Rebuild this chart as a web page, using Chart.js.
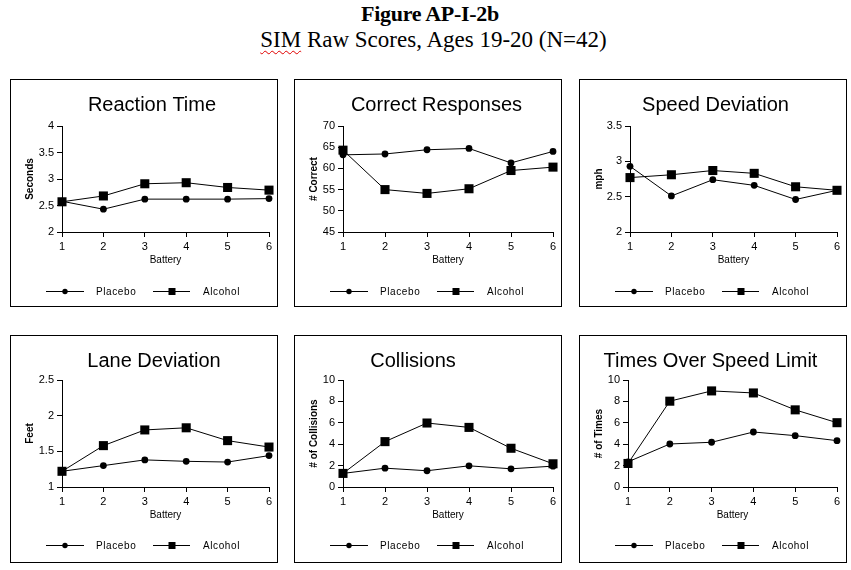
<!DOCTYPE html>
<html>
<head>
<meta charset="utf-8">
<script src="https://cdn.jsdelivr.net/npm/chart.js@4"></script>
<style>
  body { margin: 0; background: #fff; width: 851px; height: 570px; position: relative; overflow: hidden; }
  .head { position: absolute; left: 0; text-align: center; font-family: "Liberation Serif", "Times New Roman", serif; color: #000; white-space: nowrap; }
  #fig { top: 3px; width: 860px; font-size: 22px; line-height: 22px; font-weight: bold; letter-spacing: -0.3px; }
  #sub { top: 28px; width: 867px; font-size: 23px; line-height: 23px; }
  .typo { text-decoration: underline wavy #e00000; text-decoration-thickness: 1px; text-underline-offset: 3px; }
  .panel { position: absolute; width: 268px; height: 228px; box-sizing: border-box; border: 1px solid #000; background: #fff; }
  .panel canvas { position: absolute; left: 0; top: 0; }
</style>
</head>
<body>
<div class="head" id="fig">Figure AP-I-2b</div>
<div class="head" id="sub"><span class="typo">SIM</span> Raw Scores, Ages 19-20 (N=42)</div>

<div class="panel" style="left:10px; top:79px;"><canvas id="reaction" width="266" height="226"></canvas></div>
<div class="panel" style="left:294px; top:79px;"><canvas id="correct" width="266" height="226"></canvas></div>
<div class="panel" style="left:579px; top:79px;"><canvas id="speed" width="266" height="226"></canvas></div>
<div class="panel" style="left:10px; top:335px;"><canvas id="lane" width="266" height="226"></canvas></div>
<div class="panel" style="left:294px; top:335px;"><canvas id="collisions" width="266" height="226"></canvas></div>
<div class="panel" style="left:579px; top:335px;"><canvas id="overLimit" width="266" height="226"></canvas></div>

<script>
// data
const batteries = ["1", "2", "3", "4", "5", "6"];

const reactionPlacebo = [2.58, 2.43, 2.62, 2.62, 2.62, 2.63];
const reactionAlcohol = [2.57, 2.68, 2.91, 2.93, 2.84, 2.79];
const reactionTicks = [2, 2.5, 3, 3.5, 4];

const correctPlacebo = [63.2, 63.4, 64.4, 64.7, 61.3, 64.0];
const correctAlcohol = [64.3, 55.0, 54.1, 55.2, 59.5, 60.3];
const correctTicks = [45, 50, 55, 60, 65, 70];

const speedPlacebo = [2.93, 2.51, 2.74, 2.66, 2.46, 2.59];
const speedAlcohol = [2.77, 2.81, 2.87, 2.83, 2.64, 2.59];
const speedTicks = [2, 2.5, 3, 3.5];

const lanePlacebo = [1.22, 1.30, 1.38, 1.36, 1.35, 1.44];
const laneAlcohol = [1.22, 1.58, 1.80, 1.83, 1.65, 1.56];
const laneTicks = [1, 1.5, 2, 2.5];

const collisionsPlacebo = [1.27, 1.76, 1.52, 1.98, 1.70, 1.95];
const collisionsAlcohol = [1.27, 4.24, 5.98, 5.57, 3.62, 2.17];
const collisionsTicks = [0, 1, 2, 3, 4, 5, 6, 7, 8, 9, 10];

const overPlacebo = [2.35, 4.02, 4.18, 5.14, 4.80, 4.33];
const overAlcohol = [2.20, 8.02, 8.98, 8.79, 7.21, 6.01];
const overTicks = [0, 2, 4, 6, 8, 10];

const seriesNames = ["Placebo", "Alcohol"];

const FONT = 'Arial, "Liberation Sans", sans-serif';

// title + legend drawn by hand (line with marker, like the original)
const panelDecor = {
  id: "panelDecor",
  afterDraw(chart, args, opts) {
    const ctx = chart.ctx;
    ctx.save();
    ctx.fillStyle = "#000";
    ctx.strokeStyle = "#000";
    ctx.lineWidth = 1;

    ctx.font = "20px " + FONT;
    ctx.textAlign = "center";
    ctx.textBaseline = "alphabetic";
    ctx.fillText(opts.title, opts.titleX, opts.titleY);

    let y = opts.legendY;
    ctx.font = "10px " + FONT;
    ctx.textAlign = "left";
    ctx.textBaseline = "middle";
    if ("letterSpacing" in ctx) ctx.letterSpacing = "0.6px";

    ctx.beginPath();
    ctx.moveTo(35, y + 0.5);
    ctx.lineTo(73, y + 0.5);
    ctx.stroke();
    ctx.beginPath();
    ctx.arc(54, y + 0.5, 2.7, 0, Math.PI * 2);
    ctx.fill();
    ctx.fillText(chart.data.datasets[0].label, 85, y + 1);

    ctx.beginPath();
    ctx.moveTo(142, y + 0.5);
    ctx.lineTo(179, y + 0.5);
    ctx.stroke();
    ctx.fillRect(157.5, y - 3, 7, 7);
    ctx.fillText(chart.data.datasets[1].label, 192, y + 1);

    ctx.restore();
  }
};

function makeChart(id, placebo, alcohol, ticks, yTitle, layout) {
  let top = layout.row === 0 ? 46 : 44;
  let bottom = layout.row === 0 ? 34 : 35;
  return new Chart(document.getElementById(id), {
    type: "line",
    data: {
      labels: batteries,
      datasets: [
        {
          label: seriesNames[0],
          data: placebo,
          borderColor: "#000",
          borderWidth: 1,
          pointStyle: "circle",
          pointRadius: 3.4,
          pointBackgroundColor: "#000",
          pointBorderWidth: 0,
          tension: 0,
          clip: false
        },
        {
          label: seriesNames[1],
          data: alcohol,
          borderColor: "#000",
          borderWidth: 1,
          pointStyle: "rect",
          pointRadius: 6.4,
          pointBackgroundColor: "#000",
          pointBorderWidth: 0,
          tension: 0,
          clip: false
        }
      ]
    },
    options: {
      responsive: false,
      animation: false,
      devicePixelRatio: 1,
      layout: { padding: { top: top, bottom: bottom, left: 0, right: layout.right } },
      plugins: {
        legend: { display: false },
        tooltip: { enabled: false },
        panelDecor: {
          title: layout.title,
          titleX: layout.titleX,
          titleY: 31,
          legendY: layout.row === 0 ? 211 : 209
        }
      },
      scales: {
        x: {
          type: "category",
          offset: false,
          afterFit: (s) => { s.height = 40; },
          grid: { display: true, drawOnChartArea: false, drawTicks: true, tickLength: 5, color: "#000" },
          border: { display: true, color: "#000", width: 1 },
          ticks: { color: "#000", padding: 3, font: { family: FONT, size: 11 }, maxRotation: 0, autoSkip: false },
          title: { display: true, text: "Battery", color: "#000", padding: { top: 0, bottom: 6 }, font: { family: FONT, size: 10 } }
        },
        y: {
          min: ticks[0],
          max: ticks[ticks.length - 1],
          afterFit: (s) => { s.width = layout.yWidth; },
          afterBuildTicks: (s) => { s.ticks = ticks.map(v => ({ value: v })); },
          grid: { display: true, drawOnChartArea: false, drawTicks: true, tickLength: 5, color: "#000" },
          border: { display: true, color: "#000", width: 1 },
          ticks: { color: "#000", padding: 3, font: { family: FONT, size: 11 }, callback: (v) => String(v) },
          title: { display: true, text: yTitle, color: "#000", padding: { top: 13, bottom: 0 }, font: { family: FONT, size: 10, weight: "bold" } }
        }
      }
    },
    plugins: [panelDecor]
  });
}

makeChart("reaction", reactionPlacebo, reactionAlcohol, reactionTicks, "Seconds",
  { row: 0, yWidth: 51, right: 8, title: "Reaction Time", titleX: 141 });
makeChart("correct", correctPlacebo, correctAlcohol, correctTicks, "# Correct",
  { row: 0, yWidth: 48, right: 8, title: "Correct Responses", titleX: 141.5 });
makeChart("speed", speedPlacebo, speedAlcohol, speedTicks, "mph",
  { row: 0, yWidth: 50, right: 9, title: "Speed Deviation", titleX: 135.5 });
makeChart("lane", lanePlacebo, laneAlcohol, laneTicks, "Feet",
  { row: 1, yWidth: 51, right: 8, title: "Lane Deviation", titleX: 143 });
makeChart("collisions", collisionsPlacebo, collisionsAlcohol, collisionsTicks, "# of Collisions",
  { row: 1, yWidth: 48, right: 8, title: "Collisions", titleX: 118 });
makeChart("overLimit", overPlacebo, overAlcohol, overTicks, "# of Times",
  { row: 1, yWidth: 48, right: 9, title: "Times Over Speed Limit", titleX: 130.5 });
</script>
</body>
</html>
